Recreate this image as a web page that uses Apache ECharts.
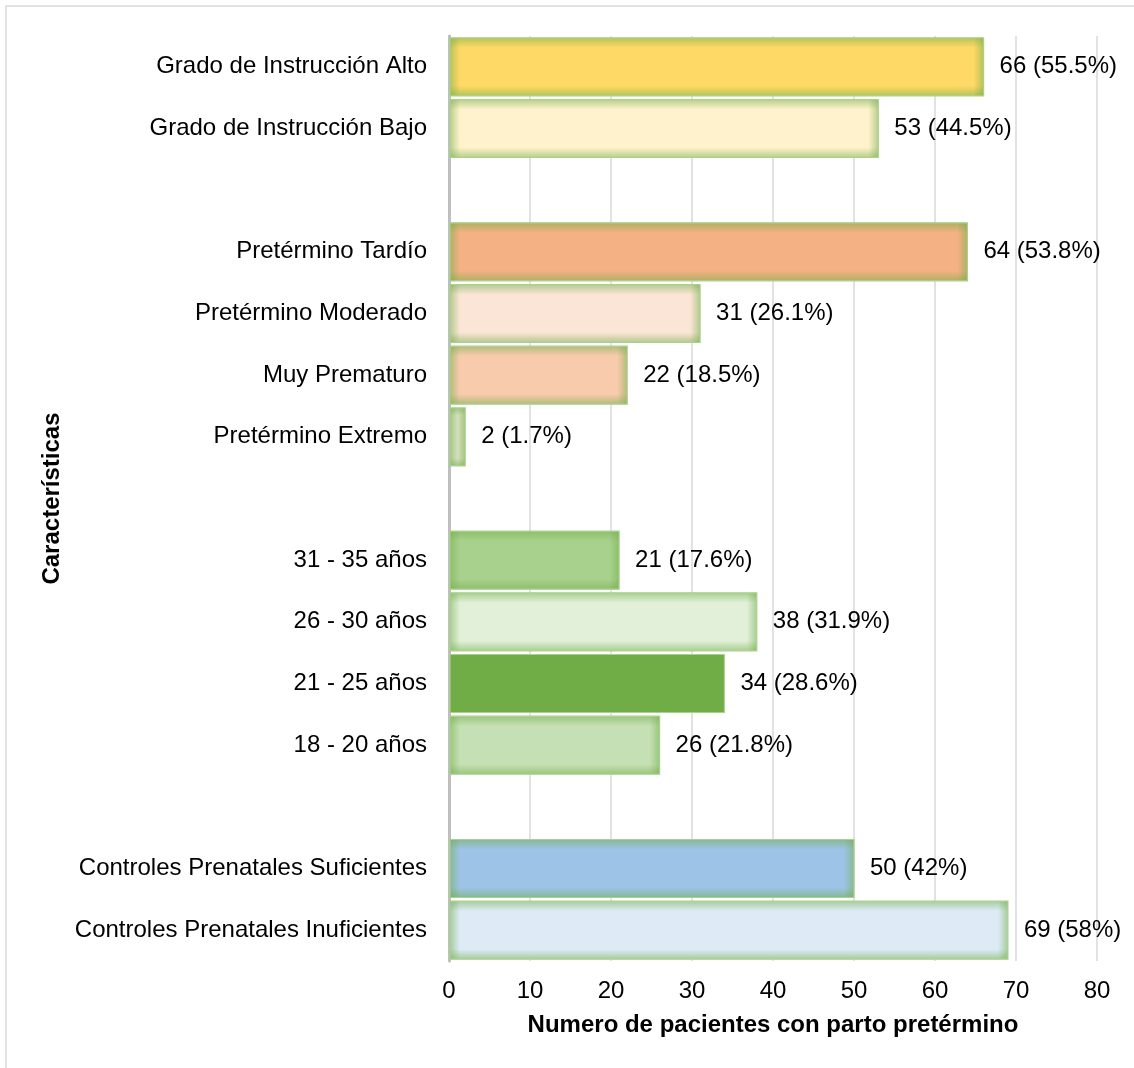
<!DOCTYPE html>
<html>
<head>
<meta charset="utf-8">
<script src="https://cdn.jsdelivr.net/npm/echarts@6/dist/echarts.min.js"></script>
<style>
  html, body { margin: 0; padding: 0; background: #fff; }
  #chart { width: 1134px; height: 1068px; }
</style>
</head>
<body>
<div id="chart"></div>
<script>
// Rows top to bottom; blank rows separate the four groups of characteristics.
const categories = [
  'Grado de Instrucción Alto', 'Grado de Instrucción Bajo', ' ',
  'Pretérmino Tardío', 'Pretérmino Moderado', 'Muy Prematuro', 'Pretérmino Extremo', '  ',
  '31 - 35 años', '26 - 30 años', '21 - 25 años', '18 - 20 años', '   ',
  'Controles Prenatales Suficientes', 'Controles Prenatales Inuficientes'
];
const patients = [66, 53, null, 64, 31, 22, 2, null, 21, 38, 34, 26, null, 50, 69];
const percents = ['55.5%', '44.5%', null, '53.8%', '26.1%', '18.5%', '1.7%', null,
  '17.6%', '31.9%', '28.6%', '21.8%', null, '42%', '58%'];
const fills = ['#FFD966', '#FFF2CC', null, '#F4B183', '#FBE5D6', '#F8CBAD', '#D5DFBE', null,
  '#A9D18E', '#E2F0D9', '#70AD47', '#C5E0B4', null, '#9DC3E6', '#DEEBF7'];
const xTicks = { min: 0, max: 80, interval: 10 };

const FONT = 'Arial, "Liberation Sans", sans-serif';
const rows = [];
patients.forEach((v, i) => { if (v !== null) rows.push([v, i]); });

const GLOW = 'rgba(112,173,71,0.5)';
const CLEAR = 'rgba(112,173,71,0)';
function grad(x, y, x2, y2) {
  return new echarts.graphic.LinearGradient(x, y, x2, y2, [
    { offset: 0, color: GLOW }, { offset: 1, color: CLEAR }
  ]);
}

// Each bar: flat fill, a soft green glow along its four inner edges, a thin green outline and its value label.
function renderBar(params, api) {
  const v = api.value(0), idx = api.value(1);
  const p0 = api.coord([0, idx]);
  const p1 = api.coord([v, idx]);
  const band = api.size([0, 1])[1];
  const h = band * 0.94;
  const x = p0[0] + 1, y = p0[1] - h / 2, w = p1[0] - p0[0] - 1;
  const g = Math.min(10, w / 2);
  return {
    type: 'group',
    children: [
      { type: 'rect', shape: { x, y, width: w, height: h }, style: { fill: fills[idx] } },
      { type: 'rect', shape: { x, y, width: w, height: g }, style: { fill: grad(0, 0, 0, 1) } },
      { type: 'rect', shape: { x, y: y + h - g, width: w, height: g }, style: { fill: grad(0, 1, 0, 0) } },
      { type: 'rect', shape: { x, y, width: g, height: h }, style: { fill: grad(0, 0, 1, 0) } },
      { type: 'rect', shape: { x: x + w - g, y, width: g, height: h }, style: { fill: grad(1, 0, 0, 0) } },
      { type: 'rect', shape: { x, y, width: w, height: h },
        style: { fill: 'none', stroke: '#A9D18E', lineWidth: 1.2 } },
      { type: 'text', x: p1[0] + 16, y: p1[1],
        style: { text: v + ' (' + percents[idx] + ')', fill: '#000', font: '24px ' + FONT,
                 verticalAlign: 'middle', align: 'left' } }
    ]
  };
}

const chart = echarts.init(document.getElementById('chart'));
chart.setOption({
  backgroundColor: '#fff',
  animation: false,
  graphic: [{
    type: 'rect', shape: { x: 6, y: 6, width: 1200, height: 1200 },
    style: { fill: 'none', stroke: '#D9D9D9', lineWidth: 1.5 }, silent: true, z: -1
  }],
  grid: { left: 449, right: 37, top: 36, bottom: 107 },
  xAxis: {
    type: 'value', min: xTicks.min, max: xTicks.max, interval: xTicks.interval,
    name: 'Numero de pacientes con parto pretérmino',
    nameLocation: 'middle', nameGap: 52,
    nameTextStyle: { fontFamily: FONT, fontSize: 24, fontWeight: 'bold', color: '#000' },
    axisLine: { show: false }, axisTick: { show: false },
    axisLabel: { fontFamily: FONT, fontSize: 24, color: '#000', margin: 18 },
    splitLine: { show: true, lineStyle: { color: '#D9D9D9', width: 1.5 } }
  },
  yAxis: {
    type: 'category', data: categories, inverse: true,
    name: 'Características', nameLocation: 'middle', nameGap: 378, nameRotate: 90,
    nameTextStyle: { fontFamily: FONT, fontSize: 24, fontWeight: 'bold', color: '#000' },
    axisLine: { show: true, lineStyle: { color: '#BFBFBF', width: 3 } },
    axisTick: { show: false },
    axisLabel: { fontFamily: FONT, fontSize: 24, color: '#000', margin: 22 },
    splitLine: { show: false }
  },
  series: [{
    type: 'custom',
    renderItem: renderBar,
    encode: { x: 0, y: 1 },
    data: rows,
    z: 3
  }]
});
</script>
</body>
</html>
